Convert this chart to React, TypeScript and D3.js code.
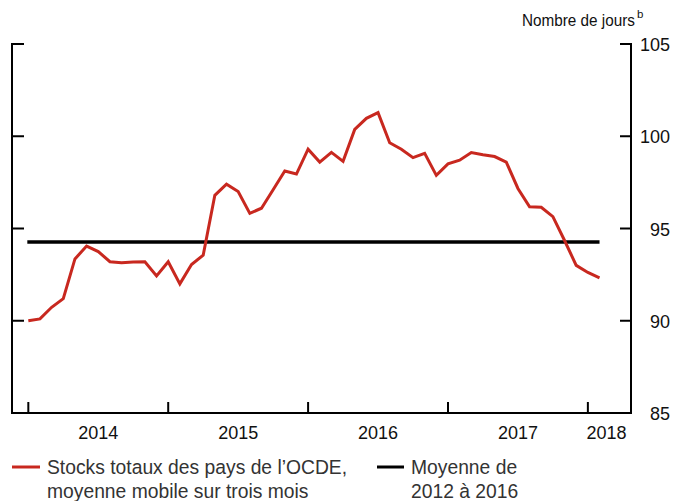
import React from 'react';
import * as d3 from 'd3';

// monthly values, Jan 2014 .. Feb 2018
const stockValues = [
  90.0, 90.1, 90.73, 91.2, 93.35, 94.05, 93.75, 93.2, 93.15, 93.18, 93.2, 92.43,
  93.2, 92.0, 93.05, 93.55, 96.8, 97.4, 97.0, 95.82, 96.1, 97.1, 98.12, 97.95,
  99.3, 98.6, 99.13, 98.64, 100.37, 100.97, 101.28, 99.65, 99.3, 98.84, 99.07, 97.88,
  98.5, 98.7, 99.12, 99.0, 98.9, 98.6, 97.17, 96.18, 96.15, 95.64, 94.35, 93.0,
  92.62, 92.33,
];
const meanValue = 94.27;
const yTicks = [85, 90, 95, 100, 105];
const yearLabels = ['2014', '2015', '2016', '2017', '2018'];
const legendStocks = ['Stocks totaux des pays de l’OCDE,', 'moyenne mobile sur trois mois'];
const legendMean = ['Moyenne de', '2012 à 2016'];

const W = 684;
const H = 501;
const left = 12;
const right = 631;
const top = 44;
const bottom = 413;
const red = '#c8281f';
const font = '"Liberation Sans", Arial, sans-serif';

const App = () => {
  // month index, 0 = Jan 2014
  const x = d3.scaleLinear().domain([-1.4, 51.7]).range([left, right]);
  const y = d3.scaleLinear().domain([85, 105]).range([bottom, top]);

  const line = d3.line<number>()
    .x((_, i) => x(i))
    .y(d => y(d));

  const yearTicks = yearLabels.map((_, i) => i * 12);
  const labelX = (i: number) =>
    i < yearLabels.length - 1 ? x(i * 12 + 6) : (x(i * 12) + right) / 2 - 3;

  return (
    <div style={{ position: 'absolute', left: 0, top: 0 }}>
      <svg width={W} height={H} style={{ display: 'block', background: '#fff' }} fontFamily={font}>
        <text x={522} y={26} fontSize={17} fill="#111">
          <tspan textLength={113} lengthAdjust="spacingAndGlyphs">Nombre de jours</tspan>
          <tspan dx={2} dy={-8} fontSize={11.5}>b</tspan>
        </text>

        {/* frame: left, right, bottom */}
        <g stroke="#000" strokeWidth={2} fill="none">
          <line x1={left} x2={left} y1={top - 1} y2={bottom + 1} />
          <line x1={right} x2={right} y1={top - 1} y2={bottom + 1} />
          <line x1={left - 1} x2={right + 1} y1={bottom} y2={bottom} />
          {yTicks.filter(t => t !== 85).map(t => (
            <g key={t}>
              <line x1={left} x2={left + 12} y1={y(t)} y2={y(t)} />
              <line x1={right - 11} x2={right} y1={y(t)} y2={y(t)} />
            </g>
          ))}
          {yearTicks.map(m => (
            <line key={m} x1={x(m)} x2={x(m)} y1={bottom} y2={bottom - 11} />
          ))}
        </g>

        {yTicks.map(t => (
          <text key={t} x={670} y={y(t) + 7} textAnchor="end" fontSize={18} fill="#111">
            {t}
          </text>
        ))}

        {yearLabels.map((l, i) => (
          <text key={l} x={labelX(i)} y={439} textAnchor="middle" fontSize={18} fill="#111">
            {l}
          </text>
        ))}

        <line
          x1={x(0) - 1}
          x2={x(stockValues.length - 1)}
          y1={y(meanValue)}
          y2={y(meanValue)}
          stroke="#000"
          strokeWidth={3.5}
        />
        <path d={line(stockValues) || ''} fill="none" stroke={red} strokeWidth={3} strokeLinejoin="miter" />

        {/* legend */}
        <line x1={12} x2={40} y1={467} y2={467} stroke={red} strokeWidth={3} />
        {legendStocks.map((t, i) => (
          <text key={t} x={47} y={474 + i * 24} fontSize={19.3} fill="#333">{t}</text>
        ))}
        <line x1={377} x2={404} y1={467} y2={467} stroke="#000" strokeWidth={3} />
        {legendMean.map((t, i) => (
          <text key={t} x={411} y={474 + i * 24} fontSize={19.3} fill="#333">{t}</text>
        ))}
      </svg>
    </div>
  );
};

export default App;
